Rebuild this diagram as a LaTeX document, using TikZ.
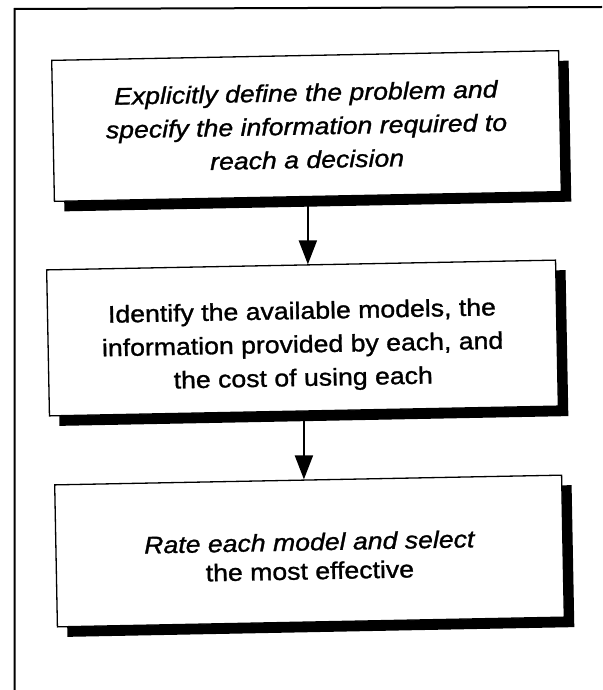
\documentclass[tikz,border=0pt]{standalone}
\usepackage{fontspec}
\setmainfont{Liberation Sans}[FakeStretch=1.11, FakeBold=1.2]
\usetikzlibrary{arrows.meta,shadows}
\begin{document}
\begin{tikzpicture}[x=1pt,y=-1pt,
  stepbox/.style={draw=black, line width=1.3pt, fill=white, inner sep=0pt,
    align=center, rotate=1.1,
    drop shadow={shadow xshift=10pt, shadow yshift=-10pt, fill=black, opacity=1},
    font=\fontsize{24}{33.5}\selectfont},
  flow/.style={line width=2pt, -{Triangle[length=24pt,width=18pt]}},
  frameline/.style={line width=2pt}]
\useasboundingbox (0,0) rectangle (602,690);

% page frame: left rule and top rule
\coordinate (fbl) at (14.5,690);
\coordinate (ftl) at (14.5,9);
\coordinate (ftr) at (602,7);
\draw[frameline] (fbl) -- (ftl) -- (ftr);

% the three steps
\node[stepbox, minimum width=507pt, minimum height=141pt] (def) at (306.5,126)
  {\itshape Explicitly define the problem and\\
   \itshape specify the information required to\\
   \itshape reach a decision};
\node[stepbox, minimum width=509pt, minimum height=146pt] (avail) at (302.5,338)
  {\rule{0pt}{34pt}Identify the available models, the\\
   information provided by each, and\\
   the cost of using each};
\node[stepbox, minimum width=507pt, minimum height=142pt,
      font=\fontsize{24}{29}\selectfont] (rate) at (309.5,551)
  {\rule{0pt}{28pt}\itshape Rate each model and select\\
   the most effective};

% connectors
\draw[flow] (def.south) -- (def.south |- avail.north);
\draw[flow] (avail.south) -- (avail.south |- rate.north);
\end{tikzpicture}
\end{document}
